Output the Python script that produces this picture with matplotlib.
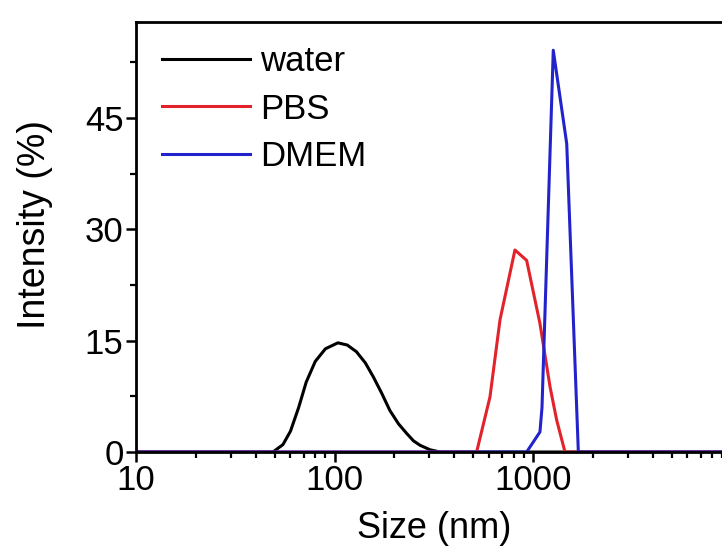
import matplotlib
matplotlib.use("Agg")
import matplotlib.pyplot as plt
from matplotlib.ticker import LogLocator, MultipleLocator, FixedLocator, NullFormatter

# DLS size distributions (size in nm, intensity in %)
water_size = [10, 49, 55, 60, 66, 72, 80, 90, 104, 116, 129, 143, 157, 173,
              190, 210, 231, 250, 270, 303, 340, 10000]
water_int = [0, 0, 1.0, 2.8, 6.0, 9.4, 12.2, 13.9, 14.7, 14.4, 13.5, 12.0, 10.1, 7.9,
             5.6, 3.8, 2.5, 1.5, 0.9, 0.3, 0, 0]

pbs_size = [10, 520, 607, 682, 811, 929, 1084, 1218, 1316, 1449, 10000]
pbs_int = [0, 0, 7.4, 17.8, 27.2, 25.8, 17.3, 8.8, 4.3, 0, 0]

dmem_size = [10, 929, 1084, 1110, 1265, 1479, 1692, 10000]
dmem_int = [0, 0, 2.7, 6.0, 54.1, 41.5, 0, 0]

x_ticks = [10, 100, 1000, 10000]
x_labels = ['10', '100', '1000', '']  # last one falls outside the picture

plt.rcParams['font.family'] = ['Liberation Sans', 'DejaVu Sans']

fig = plt.figure(figsize=(7.22, 5.54), dpi=100)
ax = fig.add_axes([136 / 722, 102 / 554, 595.5 / 722, 430 / 554])

ax.plot(water_size, water_int, color='black', lw=2.2, label='water')
ax.plot(pbs_size, pbs_int, color='#e3232b', lw=2.2, label='PBS')
ax.plot(dmem_size, dmem_int, color='#2323cc', lw=2.2, label='DMEM')

ax.set_xscale('log')
ax.set_xlim(10, 10000)
ax.set_ylim(0, 57.9)

ax.xaxis.set_major_locator(FixedLocator(x_ticks))
ax.xaxis.set_minor_locator(LogLocator(base=10, subs=range(2, 10)))
ax.xaxis.set_minor_formatter(NullFormatter())
ax.set_xticklabels(x_labels)
ax.yaxis.set_major_locator(MultipleLocator(15))
ax.yaxis.set_minor_locator(MultipleLocator(7.5))

ax.tick_params(which='major', direction='out', length=7, width=1.8, labelsize=25, pad=2)
ax.tick_params(which='minor', direction='out', length=4, width=1.6)
for s in ax.spines.values():
    s.set_linewidth(2)

ax.set_xlabel('Size (nm)', fontsize=26, labelpad=10)
ax.set_ylabel('Intensity (%)', fontsize=27)
ax.yaxis.set_label_coords(-0.139, 0.528)

ax.legend(loc='upper left', frameon=False, fontsize=25, handlelength=2.55,
          handletextpad=0.29, labelspacing=0.41, borderaxespad=0.2,
          bbox_to_anchor=(0.008, 0.994))

fig.savefig('out.png', dpi=100)
